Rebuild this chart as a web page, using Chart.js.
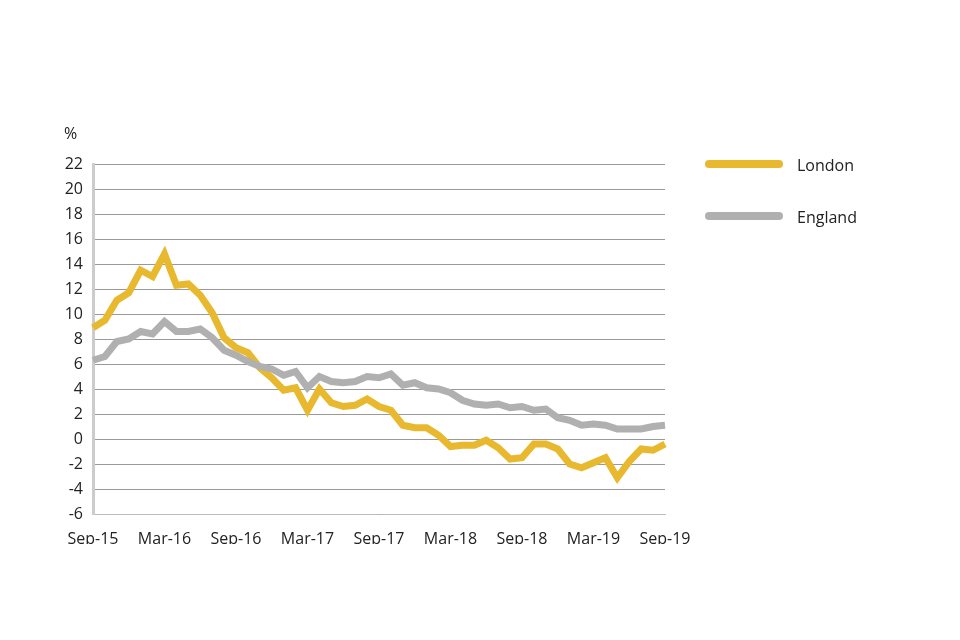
<!DOCTYPE html>
<html><head><meta charset="utf-8">
<script src="https://cdn.jsdelivr.net/npm/chart.js@4/dist/chart.umd.min.js"></script>
<style>
body{margin:0;background:#fff;font-family:"Open Sans",sans-serif}
#wrap{position:relative;width:960px;height:640px}
.leg{position:absolute;font-size:16px;color:#222}
.sw{position:absolute;width:78px;height:8px;border-radius:4px}
</style></head><body>
<div id="wrap">
<canvas id="c" width="960" height="640"></canvas>
<div class="leg" style="left:64px;top:122px">%</div>
<div class="sw" style="left:705px;top:160px;background:#E8B92F"></div>
<div class="leg" style="left:797px;top:154px">London</div>
<div class="sw" style="left:705px;top:212px;background:#B0B0B0"></div>
<div class="leg" style="left:797px;top:206px">England</div>
</div>
<script>
const months=["Jan","Feb","Mar","Apr","May","Jun","Jul","Aug","Sep","Oct","Nov","Dec"];
const labels=[];
for(let i=0;i<49;i++){const m=(8+i)%12;const y=15+Math.floor((8+i)/12);labels.push(months[m]+"-"+y);}
const london=[8.9,9.5,11.1,11.7,13.5,13.0,14.8,12.3,12.4,11.5,10.1,8.1,7.3,6.9,5.7,4.9,3.9,4.1,2.3,4.0,2.9,2.6,2.7,3.2,2.6,2.3,1.1,0.9,0.9,0.3,-0.6,-0.5,-0.5,-0.1,-0.7,-1.6,-1.5,-0.4,-0.4,-0.8,-2.0,-2.3,-1.9,-1.5,-3.1,-1.8,-0.8,-0.9,-0.4];
const england=[6.3,6.6,7.8,8.0,8.6,8.4,9.4,8.6,8.6,8.8,8.1,7.1,6.7,6.2,5.8,5.6,5.1,5.4,4.1,5.0,4.6,4.5,4.6,5.0,4.9,5.2,4.3,4.5,4.1,4.0,3.7,3.1,2.8,2.7,2.8,2.5,2.6,2.3,2.4,1.7,1.5,1.1,1.2,1.1,0.8,0.8,0.8,1.0,1.1];
const font={family:"Open Sans",size:16};
new Chart(document.getElementById('c'),{type:'line',
data:{labels,datasets:[
{label:'England',data:england,borderColor:'#B0B0B0',borderWidth:7,pointRadius:0,tension:0},
{label:'London',data:london,borderColor:'#E8B92F',borderWidth:7,pointRadius:0,tension:0}]},
options:{responsive:false,animation:false,
layout:{padding:{left:0,right:295,top:164,bottom:96}},
plugins:{legend:{display:false},tooltip:{enabled:false}},
scales:{
x:{offset:false,grid:{display:false},border:{color:'#bbb',width:1},
 afterFit:s=>{s.height=30},
 ticks:{color:'#222',font,autoSkip:false,maxRotation:0,padding:8,callback:(v,i)=>i%6===0?labels[i]:''}},
y:{min:-6,max:22,afterFit:s=>{s.width=93},
 grid:{color:'#999',drawTicks:false},border:{color:'#ccc',width:3},
 ticks:{stepSize:2,color:'#222',font,padding:10}}}}});
</script></body></html>
